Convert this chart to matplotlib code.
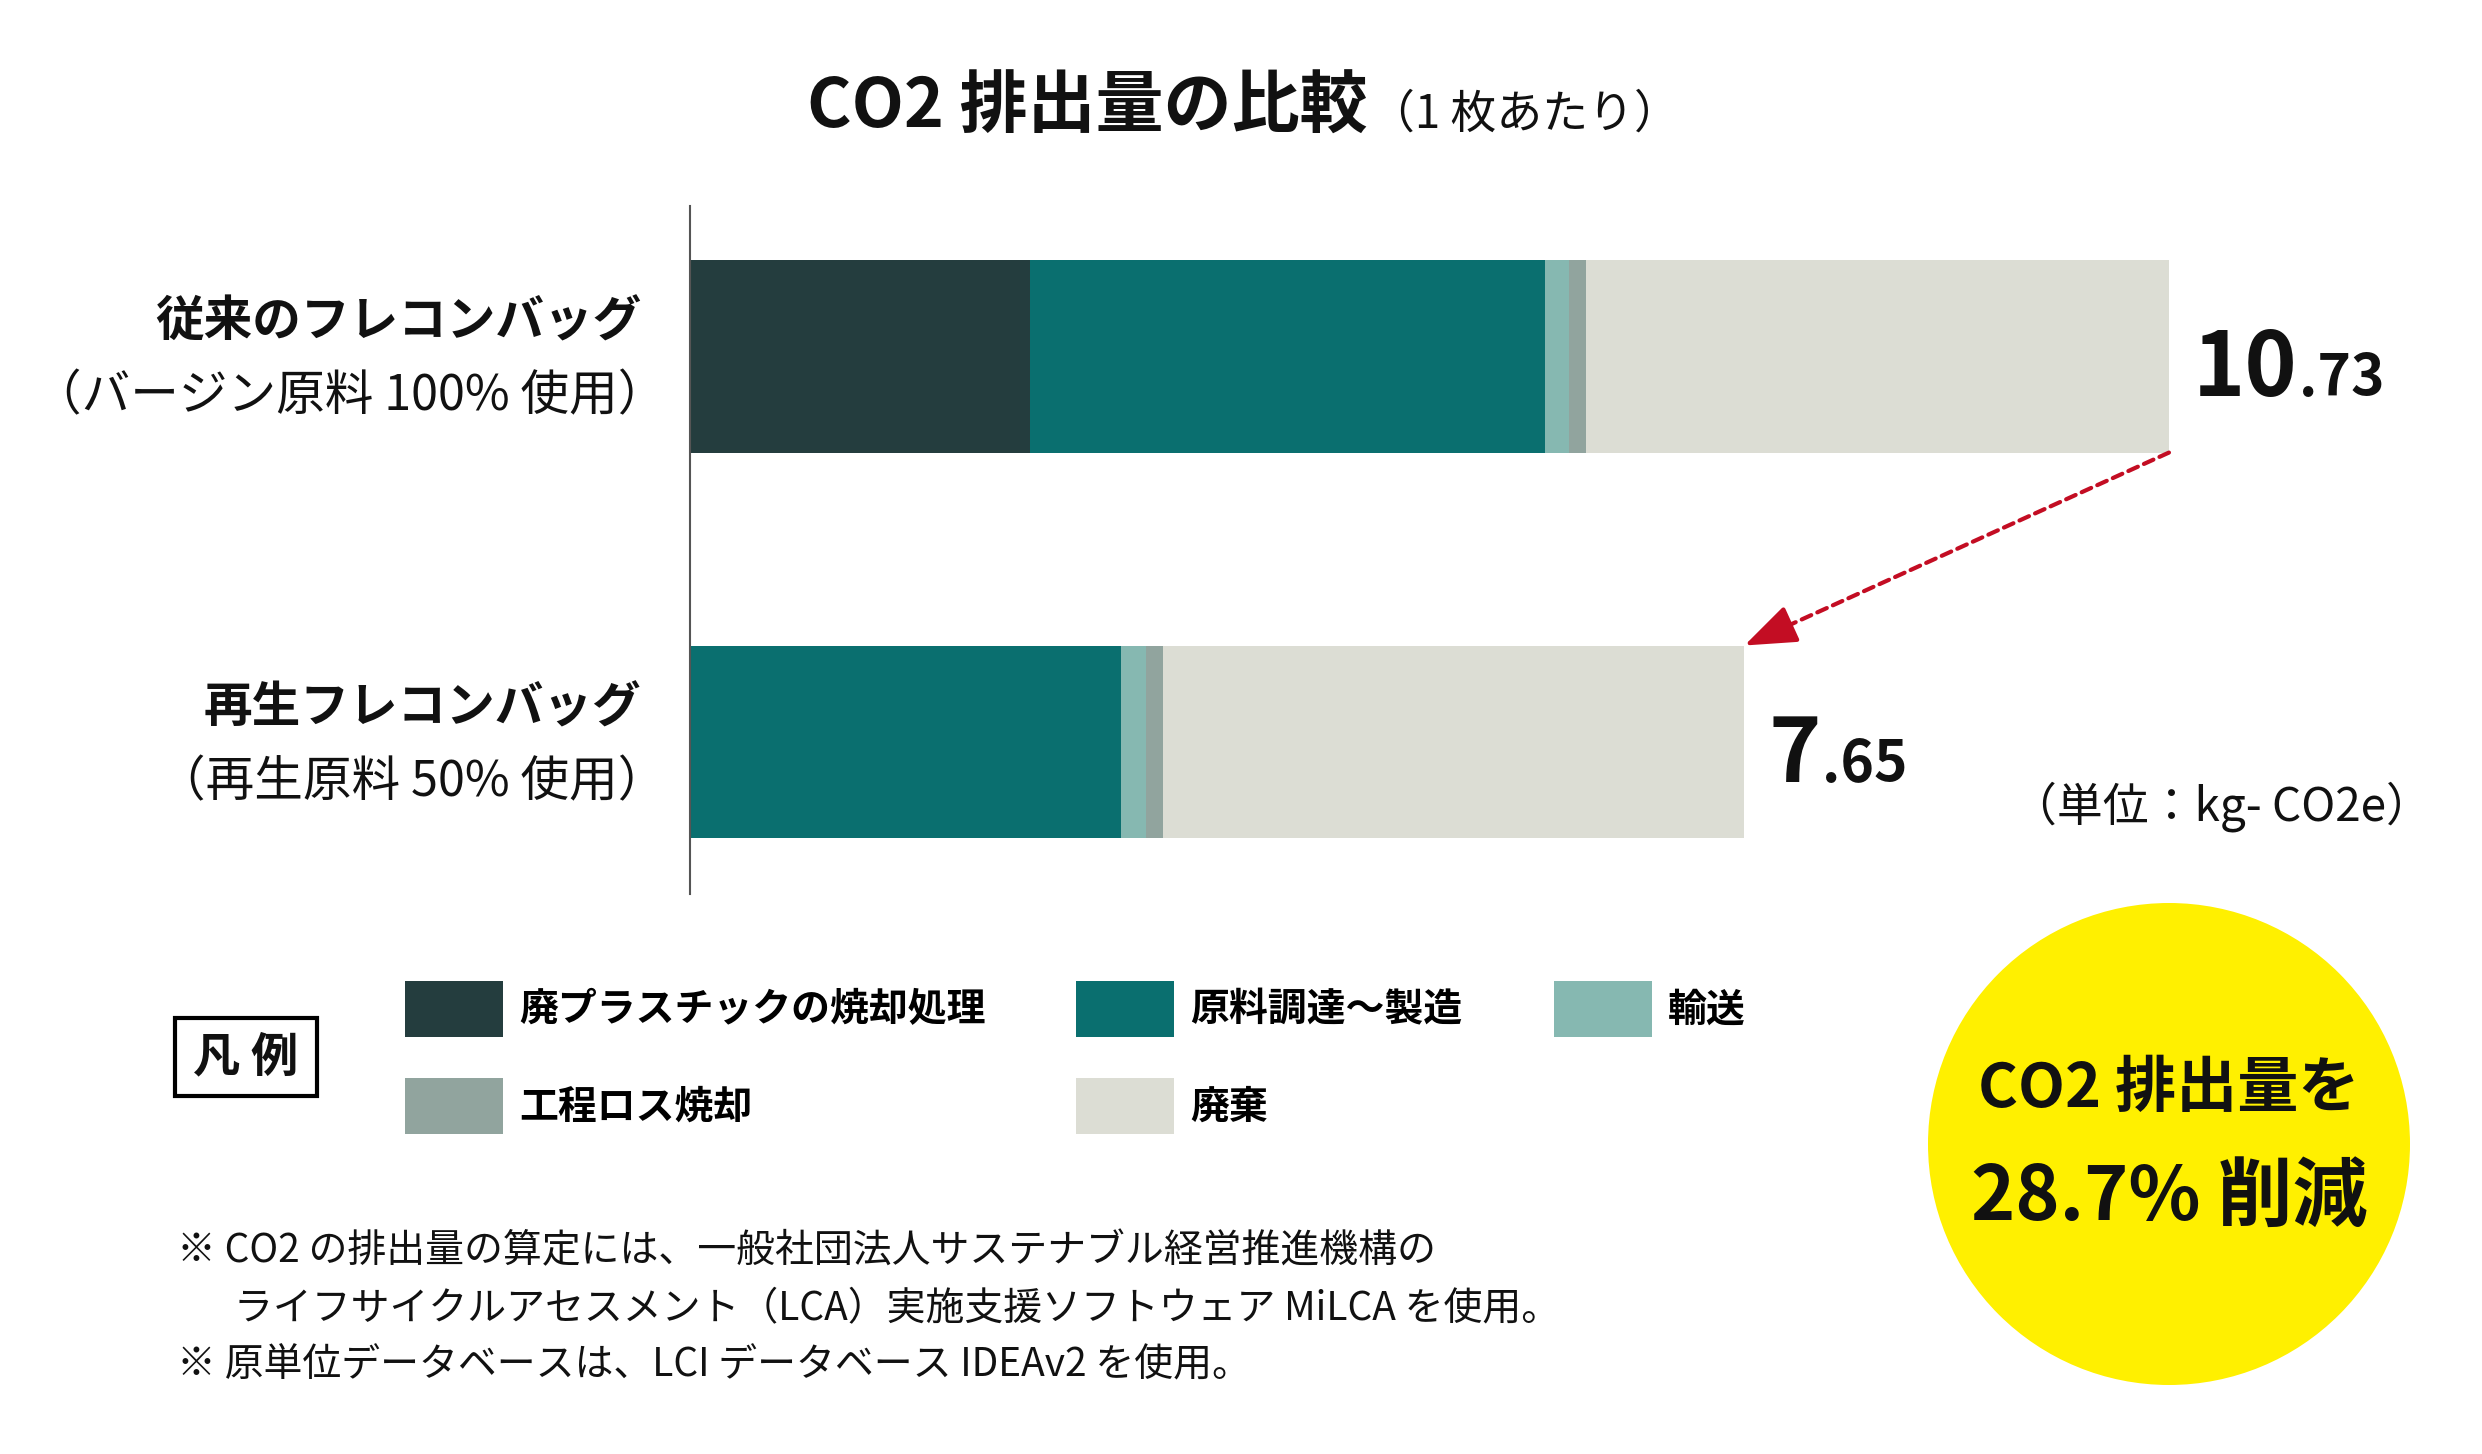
import matplotlib
matplotlib.use('Agg')
import matplotlib.pyplot as plt
import numpy as np
from matplotlib.patches import Rectangle, Ellipse

# Reference canvas in pixels
W, H = 2482, 1454

# Data
categories = ['従来のフレコンバッグ', '再生フレコンバッグ']
sublabels = ['（バージン原料 100% 使用）', '（再生原料 50% 使用）']
names = ['廃プラスチックの焼却処理', '原料調達～製造', '輸送', '工程ロス焼却', '廃棄']
incineration = [2.47, 0.0]
materials = [3.73, 3.13]
transport = [0.18, 0.18]
process_loss = [0.12, 0.12]
disposal = [4.23, 4.22]
colors = ['#243D3E', '#0A6F6F', '#86B8B1', '#91A49E', '#DCDDD4']
unit_label = '（単位：kg- CO2e）'
notes = ['※ CO2 の排出量の算定には、一般社団法人サステナブル経営推進機構の',
         'ライフサイクルアセスメント（LCA）実施支援ソフトウェア MiLCA を使用。',
         '※ 原単位データベースは、LCI データベース IDEAv2 を使用。']

series = [incineration, materials, transport, process_loss, disposal]
totals = np.sum(series, axis=0)
reduction = (totals[0] - totals[1]) / totals[0] * 100

RED = '#C30D23'
TXT = '#111111'


def fx(x):
    return x / W


def fy(y):
    return 1 - y / H


plt.rcParams['font.family'] = ['Noto Sans CJK JP', 'DejaVu Sans']

fig = plt.figure(figsize=(W / 100, H / 100), dpi=100)
ax = fig.add_axes([fx(690), fy(894), (2344 - 690) / W, (894 - 206) / H])
ax.set_xlim(0, 12)
ax.set_ylim(1.394, -0.389)

# stacked bars
bh = 0.5
ypos = np.arange(len(categories))
left = np.zeros(len(categories))
for vals, c, name in zip(series, colors, names):
    ax.barh(ypos, vals, left=left, height=bh, color=c, label=name, linewidth=0)
    left += np.array(vals)

for s in ['top', 'right', 'bottom']:
    ax.spines[s].set_visible(False)
ax.spines['left'].set_color('#555555')
ax.spines['left'].set_linewidth(1.5)
ax.set_xticks([])
ax.set_yticks([])

# category labels
for i, (cat, sub) in enumerate(zip(categories, sublabels)):
    ax.annotate(cat, xy=(0, i), xytext=(-35, 24.5), textcoords='offset points',
                ha='right', va='center', fontsize=35, fontweight='bold', color=TXT)
    ax.annotate(sub, xy=(0, i), xytext=(-17, -29), textcoords='offset points',
                ha='right', va='center', fontsize=35, color=TXT)

# totals at bar ends
for i, t in enumerate(totals):
    whole, frac = f'{t:.2f}'.split('.')
    tb = ax.annotate(whole, xy=(t, i), xytext=(17, -29), textcoords='offset points',
                     ha='left', va='baseline', fontsize=64, fontweight='bold', color=TXT)
    ax.annotate('.' + frac, xy=(1, i), xycoords=(tb, 'data'), xytext=(1, -29),
                textcoords='offset points', ha='left', va='baseline', fontsize=41,
                fontweight='bold', color=TXT)

# dashed arrow from old total to new total: dashed shaft + solid head
start = np.array([totals[0], bh / 2])
end = np.array([totals[1], 1 - bh / 2])
ax.annotate('', xy=end, xytext=start,
            arrowprops=dict(arrowstyle='-', color=RED, lw=3, linestyle=(0, (2.5, 1.6)),
                            shrinkA=0, shrinkB=8),
            annotation_clip=False)
ax.annotate('', xy=end, xytext=start + 0.92 * (end - start),
            arrowprops=dict(arrowstyle='-|>,head_length=3.2,head_width=1.2',
                            color=RED, lw=3, shrinkA=0, shrinkB=0, mutation_scale=10),
            annotation_clip=False)

fig.text(fx(2432), fy(807), unit_label, ha='right', va='center', fontsize=33, color=TXT)

# title
t = fig.text(fx(807), fy(128), 'CO2 排出量の比較', ha='left', va='baseline',
             fontsize=49, fontweight='bold', color=TXT)
ax.annotate('（1 枚あたり）', xy=(1, fy(128)), xycoords=(t, 'figure fraction'),
            xytext=(1, 0), textcoords='offset points', ha='left', va='baseline',
            fontsize=33, color=TXT, annotation_clip=False)

# legend
handles, labels = ax.get_legend_handles_labels()
order = [0, 3, 1, 4, 2]
ax.legend([handles[k] for k in order], [labels[k] for k in order], ncol=3,
          loc='upper left', bbox_to_anchor=(fx(405), fy(981)), bbox_transform=fig.transFigure,
          frameon=False, borderpad=0, borderaxespad=0, handlelength=2.52, handleheight=1.84,
          handletextpad=0.41, columnspacing=2.34, labelspacing=1.05,
          prop=dict(size=28, weight='bold'))

fig.add_artist(Rectangle((fx(175), fy(1096)), (317 - 175) / W, (1096 - 1018) / H,
                         transform=fig.transFigure, fc='white', ec='black', lw=3))
fig.text(fx(246), fy(1057), '凡 例', ha='center', va='center', fontsize=34,
         fontweight='bold', color=TXT)

# notes
fig.text(fx(177), fy(1251), notes[0], va='center', fontsize=28, color=TXT)
fig.text(fx(234), fy(1309), notes[1], va='center', fontsize=28, color=TXT)
fig.text(fx(177), fy(1365), notes[2], va='center', fontsize=28, color=TXT)

# yellow badge
fig.add_artist(Ellipse((fx(2169), fy(1144)), 482 / W, 482 / H,
                       transform=fig.transFigure, fc='#FFF000', ec='none'))
fig.text(fx(2169), fy(1089), 'CO2 排出量を', ha='center', va='center', fontsize=44,
         fontweight='bold', color=TXT)
fig.text(fx(2169), fy(1198), f'{reduction:.1f}% 削減', ha='center', va='center',
         fontsize=54, fontweight='bold', color=TXT)

fig.savefig('out.png', dpi=100, facecolor='white')
